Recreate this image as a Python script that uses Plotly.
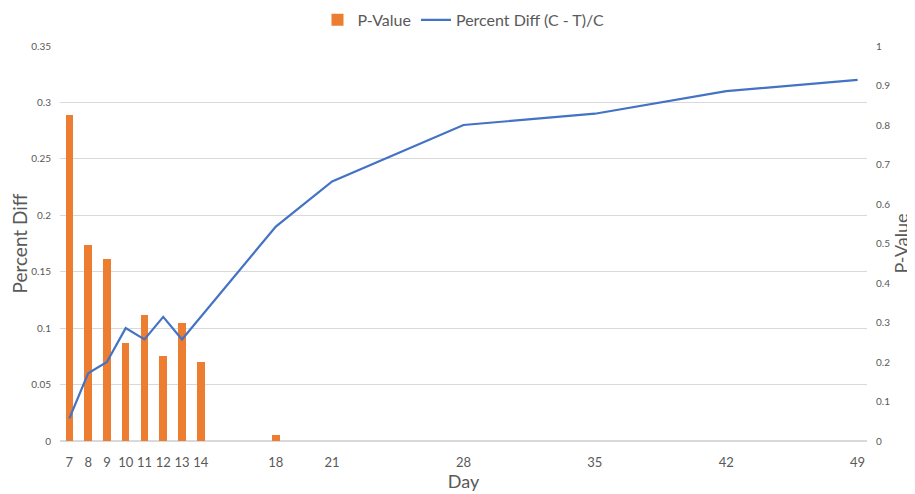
import plotly.graph_objects as go

days = [7, 8, 9, 10, 11, 12, 13, 14, 18, 21, 28, 35, 42, 49]
p_value = [0.825, 0.495, 0.46, 0.247, 0.32, 0.216, 0.30, 0.20, 0.015, 0, 0, 0, 0, 0]
percent_diff = [0.02, 0.06, 0.07, 0.10, 0.09, 0.11, 0.09, 0.11, 0.19, 0.23, 0.28, 0.29, 0.31, 0.32]
tick_labels = [str(d) for d in days]

FONT = "Lato, 'Open Sans', sans-serif"
TXT = "#595959"
GRID = "#D9D9D9"

fig = go.Figure()
# bars on the base axis (shown on the right), line on the overlaying axis (left) so it draws on top
fig.add_trace(go.Bar(
    x=days, y=p_value, name="P-Value", yaxis="y",
    marker=dict(color="#ED7D31", line=dict(width=0)), width=0.4,
))
fig.add_trace(go.Scatter(
    x=days, y=percent_diff, name="Percent Diff (C - T)/C", mode="lines", yaxis="y2",
    line=dict(color="#4472C4", width=2.2),
))

fig.update_layout(
    width=907, height=486,
    margin=dict(l=52, r=48, t=38, b=53, autoexpand=False),
    paper_bgcolor="white", plot_bgcolor="white",
    font=dict(family=FONT, color=TXT),
    bargap=0,
    legend=dict(orientation="h", x=0.5, xanchor="center", y=1.066, yanchor="middle",
                font=dict(size=16, color=TXT), traceorder="normal", itemwidth=30),
    xaxis=dict(
        range=[6.5, 49.5], tickmode="array", tickvals=days, ticktext=tick_labels,
        showgrid=False, zeroline=False, showline=False, ticks="",
        tickfont=dict(size=13, color=TXT), ticklabelstandoff=12, automargin=False,
        title=dict(text="Day", font=dict(size=18, color=TXT), standoff=5),
    ),
    yaxis2=dict(
        range=[0, 0.35], overlaying="y", side="left",
        tickvals=[0, 0.05, 0.1, 0.15, 0.2, 0.25, 0.3, 0.35],
        ticktext=["0", "0.05", "0.1", "0.15", "0.2", "0.25", "0.3", "0.35"],
        showgrid=True, gridcolor=GRID, gridwidth=1, zeroline=True, zerolinecolor=GRID,
        tickfont=dict(size=10, color=TXT), ticks="", ticklen=0, ticklabelstandoff=8,
        automargin=False,
        title=dict(text="Percent Diff", font=dict(size=19, color=TXT), standoff=6),
    ),
    yaxis=dict(
        range=[0, 1], side="right",
        tickvals=[0, 0.1, 0.2, 0.3, 0.4, 0.5, 0.6, 0.7, 0.8, 0.9, 1],
        ticktext=["0", "0.1", "0.2", "0.3", "0.4", "0.5", "0.6", "0.7", "0.8", "0.9", "1"],
        showgrid=False, zeroline=False, automargin=False,
        tickfont=dict(size=10, color=TXT), ticks="", ticklen=0, ticklabelstandoff=8,
        title=dict(text="P-Value", font=dict(size=18, color=TXT), standoff=2),
    ),
)

fig.write_html("out.html")
